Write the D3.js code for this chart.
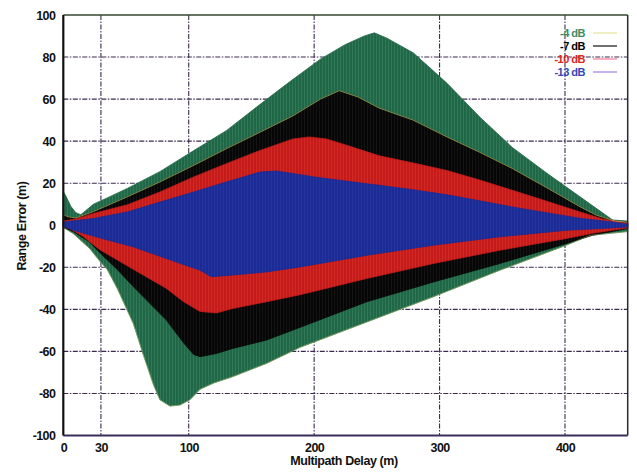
<!DOCTYPE html>
<html>
<head>
<meta charset="utf-8">
<script src="https://cdn.jsdelivr.net/npm/d3@7"></script>
<style>
  html, body { margin: 0; padding: 0; background: #fff; }
  svg { display: block; }
  text { font-family: "Liberation Sans", Arial, sans-serif; font-weight: bold; }
</style>
</head>
<body>
<svg id="chart" width="637" height="472"></svg>
<script>
// Axis ticks
const xTicks = [0, 30, 100, 200, 300, 400];
const yTicks = [-100, -80, -60, -40, -20, 0, 20, 40, 60, 80, 100];

// Series names (signal-to-multipath ratio)
const seriesNames = ["-4 dB", "-7 dB", "-10 dB", "-13 dB"];

// Error envelopes: [multipath delay (m), range error (m)]
const upper4 = [[0,16],[2,14],[6,9],[10,6],[14,5],[24,10],[35,13],[51,17.5],[77,25.5],[104,35.5],[130,45],[158,58],[180,68],[205,79],[225,86],[240,90],[248,91.5],[258,89],[279,82],[306,67.5],[332,51.5],[358,37],[385,25],[412,13.5],[438,2.5],[450,2]];
const lower4 = [[0,-1],[8,-4],[21,-11],[29,-17],[35,-21],[43,-30],[56,-47],[64,-62],[72,-76],[77,-83],[85,-86],[93,-85.5],[101,-83],[109,-78],[120,-75],[135,-72],[162,-65.7],[189,-58],[242,-46],[295,-34],[348,-21.4],[401,-9.5],[420,-4.8],[450,-3]];

const upper7 = [[0,5],[4,4],[10,3.5],[24,6.5],[51,13.5],[77,20.6],[104,28.5],[130,36.4],[157,44.3],[183,52],[205,60],[220,64],[235,61],[252,55.7],[279,50],[306,42],[332,34.7],[358,27],[385,18],[412,8.8],[425,4.8],[440,2],[450,1.5]];
const lower7 = [[0,-1],[8,-3],[21,-8],[29,-13],[43,-21],[56,-29.3],[82,-45],[96,-56],[104,-61.5],[109,-62.5],[122,-61],[135,-58.6],[162,-54.6],[189,-48.5],[242,-36.4],[295,-27],[348,-18.2],[401,-8.7],[422,-4.8],[450,-1.5]];

const upper10 = [[0,2],[10,3],[24,5.6],[51,9.7],[77,15.8],[104,23],[130,29.3],[157,35.6],[183,41],[196,42],[210,41],[226,38],[252,33],[280,29.5],[306,26],[332,21.5],[358,16.6],[385,11.5],[412,6.3],[430,3],[450,1]];
const lower10 = [[0,-0.5],[5,-1.6],[15,-5],[29,-11.6],[56,-21],[82,-30],[96,-36.4],[109,-41],[122,-41.7],[135,-39.6],[162,-36.4],[189,-33],[242,-25.3],[295,-18.2],[348,-11.9],[401,-6.3],[422,-3.8],[450,-1.2]];

const upper13 = [[0,1.5],[24,3.2],[51,6.3],[77,11],[104,15.8],[130,20.6],[157,25.3],[170,25.8],[183,24.6],[200,23],[225,21],[252,19],[280,16.8],[306,14.5],[332,11.6],[358,8.7],[385,6],[412,3.3],[438,1.5],[450,0.5]];
const lower13 = [[0,-0.5],[8,-2.4],[29,-6],[56,-10.3],[82,-15.8],[109,-21.4],[118,-24.5],[135,-23.7],[162,-22.2],[189,-19.8],[242,-14.3],[295,-9.5],[348,-5.5],[401,-2.4],[428,-1.6],[450,-0.8]];

const envelopes = [
  { name: seriesNames[0], upper: upper4,  lower: lower4,  fill: "#216647", stripe: "#2e7a56", text: "#3d8a62", key: "#e4e49a" },
  { name: seriesNames[1], upper: upper7,  lower: lower7,  fill: "#060606", stripe: "#141414", text: "#000000", key: "#111111" },
  { name: seriesNames[2], upper: upper10, lower: lower10, fill: "#c41a1a", stripe: "#d22a24", text: "#e02424", key: "#f27d9a" },
  { name: seriesNames[3], upper: upper13, lower: lower13, fill: "#1b2a94", stripe: "#24369f", text: "#3346b4", key: "#9a7ee0" }
];

const svg = d3.select("#chart");
const plot = { left: 63.3, right: 627.7, top: 15, bottom: 435.5 };

const x = d3.scaleLinear().domain([0, 450]).range([plot.left, plot.right]);
const y = d3.scaleLinear().domain([-100, 100]).range([plot.bottom, plot.top]);

// Vertical striped fills for the dense oscillation bands
const defs = svg.append("defs");
envelopes.forEach((s, i) => {
  const p = defs.append("pattern")
    .attr("id", "fill" + i)
    .attr("patternUnits", "userSpaceOnUse")
    .attr("width", 3).attr("height", 10);
  p.append("rect").attr("width", 3).attr("height", 10).attr("fill", s.fill);
  p.append("rect").attr("x", 1).attr("width", 1).attr("height", 10).attr("fill", s.stripe);
});

// Grid (dash-dot)
const grid = svg.append("g").attr("stroke", "#3b2c4f").attr("stroke-width", 1.1)
  .attr("stroke-dasharray", "5,1.5,1.5,1.5");
grid.selectAll("line.h").data(yTicks.filter(v => v > -100 && v < 100)).enter().append("line")
  .attr("x1", plot.left).attr("x2", plot.right)
  .attr("y1", d => y(d)).attr("y2", d => y(d));
grid.selectAll("line.v").data(xTicks.filter(v => v > 0)).enter().append("line")
  .attr("y1", plot.top).attr("y2", plot.bottom)
  .attr("x1", d => x(d)).attr("x2", d => x(d));

// Envelope bands
const edge = d3.line().x(d => x(d[0])).y(d => y(d[1]));
const bands = svg.append("g");
envelopes.forEach((s, i) => {
  const pts = s.upper.concat(s.lower.slice().reverse());
  bands.append("path")
    .attr("d", edge(pts) + "Z")
    .attr("fill", "url(#fill" + i + ")")
    .attr("stroke", s.fill)
    .attr("stroke-width", 0.8)
    .attr("stroke-linejoin", "round");
});
// light trace along the -7 dB upper edge and -4 dB lower edge
bands.append("path").attr("d", edge(upper7)).attr("fill", "none")
  .attr("stroke", "#c9cf6a").attr("stroke-width", 0.8).attr("opacity", 0.8);
bands.append("path").attr("d", edge(lower4)).attr("fill", "none")
  .attr("stroke", "#c9cf6a").attr("stroke-width", 0.7).attr("opacity", 0.6);

// Frame
svg.append("line").attr("x1", plot.left).attr("x2", plot.right).attr("y1", plot.top).attr("y2", plot.top)
  .attr("stroke", "#33482e").attr("stroke-width", 1.5);
svg.append("line").attr("x1", plot.right).attr("x2", plot.right).attr("y1", plot.top).attr("y2", plot.bottom)
  .attr("stroke", "#2a2a2a").attr("stroke-width", 1.5);
svg.append("line").attr("x1", plot.left).attr("x2", plot.right).attr("y1", plot.bottom).attr("y2", plot.bottom)
  .attr("stroke", "#3a2f5a").attr("stroke-width", 2);
svg.append("line").attr("x1", plot.left).attr("x2", plot.left).attr("y1", plot.top).attr("y2", plot.bottom)
  .attr("stroke", "#111").attr("stroke-width", 2.2);

// Axes (labels only; frame lines drawn above)
const plain = d => String(d);
const xAxis = svg.append("g").attr("transform", `translate(0,${plot.bottom})`)
  .call(d3.axisBottom(x).tickValues(xTicks).tickFormat(plain).tickSize(0).tickPadding(8));
const yAxis = svg.append("g").attr("transform", `translate(${plot.left},0)`)
  .call(d3.axisLeft(y).tickValues(yTicks).tickFormat(plain).tickSize(0).tickPadding(8));
[xAxis, yAxis].forEach(a => {
  a.select(".domain").remove();
  a.selectAll("text").attr("font-size", 12.5).attr("font-family", "Liberation Sans, Arial, sans-serif")
    .attr("font-weight", "bold").attr("fill", "#111").attr("letter-spacing", -0.6);
});

// Axis titles
svg.append("text").attr("x", 344).attr("y", 465).attr("text-anchor", "middle")
  .attr("font-size", 12.5).attr("letter-spacing", -0.4).attr("fill", "#111")
  .text("Multipath Delay (m)");
svg.append("text").attr("transform", "translate(26,226) rotate(-90)").attr("text-anchor", "middle")
  .attr("font-size", 12.5).attr("letter-spacing", -0.4).attr("fill", "#111")
  .text("Range Error (m)");

// Legend
const legend = svg.append("g");
const legendY = [37, 50, 63, 76];
envelopes.forEach((s, i) => {
  legend.append("text").attr("x", 585).attr("y", legendY[i]).attr("text-anchor", "end")
    .attr("font-size", 11).attr("letter-spacing", -0.5).attr("fill", s.text).text(s.name);
  legend.append("line").attr("x1", 593).attr("x2", 617)
    .attr("y1", legendY[i] - 4).attr("y2", legendY[i] - 4)
    .attr("stroke", s.key).attr("stroke-width", 1.2);
});
</script>
</body>
</html>
